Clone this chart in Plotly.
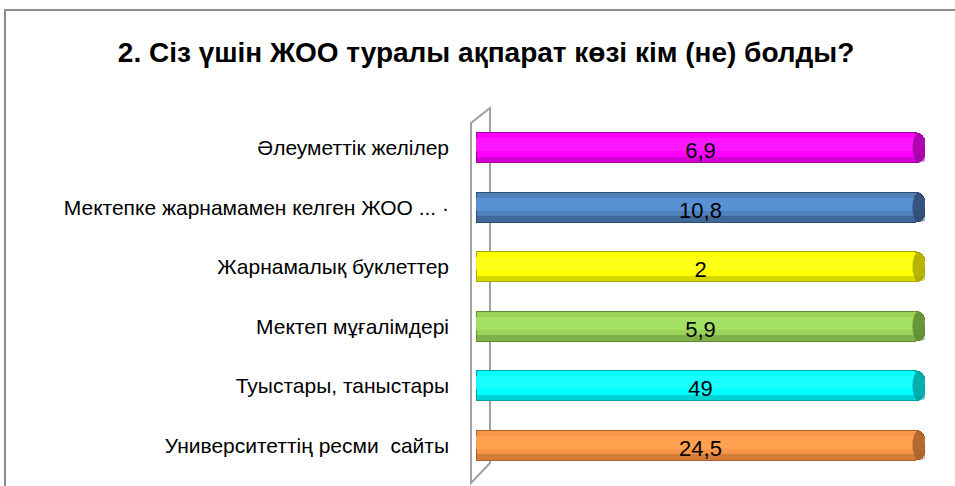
import plotly.graph_objects as go

title_text = "2. Сіз үшін ЖОО туралы ақпарат көзі кім (не) болды?"
categories = [
    "Әлеуметтік желілер",
    "Мектепке жарнамамен келген ЖОО ... ·",
    "Жарнамалық буклеттер",
    "Мектеп мұғалімдері",
    "Туыстары, таныстары",
    "Университеттің ресми  сайты",
]
values = [6.9, 10.8, 2, 5.9, 49, 24.5]
value_labels = ["6,9", "10,8", "2", "5,9", "49", "24,5"]
bar_colors = ["#FF00FF", "#4F81BD", "#FFFF00", "#9BD25A", "#00FFFF", "#F79646"]
mid_colors = ["#FF1AFF", "#5B93D8", "#FFFF1A", "#A6E264", "#1AFFFF", "#FFA452"]
edge_colors = ["#A000A0", "#2E4A70", "#A8A800", "#5E8A33", "#00A0A0", "#A8602A"]

W, H = 955, 486
ML, MR, MT, MB = 476, 30, 118, 11
pw = W - ML - MR
ph = H - MT - MB


def px(x):
    return (x - ML) / pw


def py(y):
    return (H - MB - y) / ph


fig = go.Figure()
# main cylinder body (100% stacked, single series)
fig.add_trace(go.Bar(
    y=categories, x=values, orientation="h",
    marker=dict(color=bar_colors, line=dict(color=edge_colors, width=1.2), cornerradius=10),
    width=0.5, hoverinfo="skip", showlegend=False, yaxis="y",
))
# brighter middle band for cylinder shading
fig.add_trace(go.Bar(
    y=categories, x=values, orientation="h",
    marker=dict(color=mid_colors, line=dict(width=0), cornerradius=6),
    width=0.22, offset=-0.16, opacity=0.9,
    hoverinfo="skip", showlegend=False, yaxis="y2",
))
# darker bottom band
fig.add_trace(go.Bar(
    y=categories, x=values, orientation="h",
    marker=dict(color=edge_colors, line=dict(width=0), cornerradius=5),
    width=0.09, offset=0.15, opacity=0.45,
    hoverinfo="skip", showlegend=False, yaxis="y3",
))
# value labels on top
fig.add_trace(go.Bar(
    y=categories, x=values, orientation="h",
    marker=dict(color="rgba(0,0,0,0)", line=dict(width=0)),
    width=0.5, offset=-0.2,
    text=value_labels, textposition="inside", insidetextanchor="middle",
    textangle=0, constraintext="none",
    textfont=dict(family="Liberation Sans", size=22, color="black"),
    hoverinfo="skip", showlegend=False, yaxis="y4",
))

end_caps = []
for i, c in enumerate(edge_colors):
    end_caps.append(dict(
        type="circle", xref="x", yref="y", x0=100 - 2.8, x1=100, y0=i - 0.25, y1=i + 0.25,
        fillcolor=c, opacity=0.85, line=dict(width=0), layer="above",
    ))

fig.update_layout(
    width=W, height=H,
    margin=dict(l=ML, r=MR, t=MT, b=MB),
    barmode="stack", barnorm="percent",
    paper_bgcolor="white", plot_bgcolor="rgba(0,0,0,0)",
    title=dict(text="<b>" + title_text + "</b>", x=0.509, xref="container", xanchor="center",
               y=1 - 52 / H, yanchor="middle",
               font=dict(family="Liberation Sans", size=28, color="black")),
    xaxis=dict(range=[0, 100], visible=False, fixedrange=True),
    yaxis=dict(autorange="reversed", showgrid=False, zeroline=False, showline=False,
               ticks="", ticklabelstandoff=26,
               tickfont=dict(family="Liberation Sans", size=21, color="black")),
    yaxis2=dict(overlaying="y", matches="y", visible=False),
    yaxis3=dict(overlaying="y", matches="y", visible=False),
    yaxis4=dict(overlaying="y", matches="y", visible=False),
    shapes=[
        # chart frame
        dict(type="rect", xref="paper", yref="paper", x0=px(5), y0=py(500), x1=px(990), y1=py(10),
             line=dict(color="#8C8C8C", width=2), fillcolor="rgba(0,0,0,0)", layer="below"),
        # 3D wall
        dict(type="path", xref="paper", yref="paper",
             path=f"M {px(471)} {py(483)} L {px(471)} {py(123)} L {px(490)} {py(108)} L {px(490)} {py(463)} Z",
             line=dict(color="#A0A0A0", width=2), fillcolor="rgba(0,0,0,0)", layer="below"),
    ] + end_caps,
)

fig.write_html("out.html", config={"displayModeBar": False},
               post_script="document.body.style.margin='0';")
